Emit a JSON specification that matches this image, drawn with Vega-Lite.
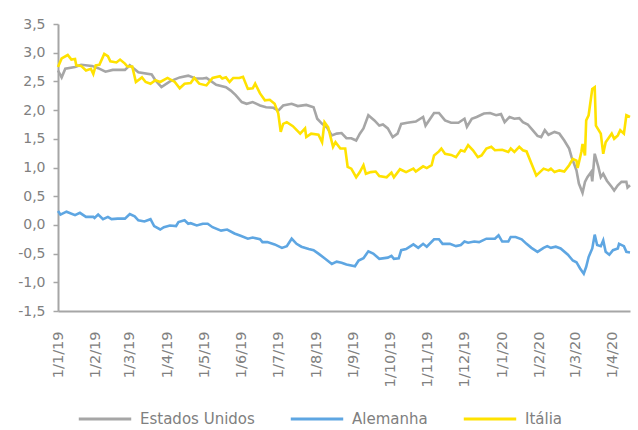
{
  "$schema": "https://vega.github.io/schema/vega-lite/v6.json",
  "autosize": {"type": "none"},
  "width": 572,
  "height": 287,
  "padding": {"left": 58, "top": 24, "right": 8, "bottom": 119},
  "background": "white",
  "config": {
    "view": {"stroke": null},
    "font": "DejaVu Sans"
  },
  "datasets": {
    "us": [
      {"d":"2019-01-01","v":2.69},{"d":"2019-01-04","v":2.57},{"d":"2019-01-07","v":2.72},{"d":"2019-01-15","v":2.75},{"d":"2019-01-20","v":2.79},{"d":"2019-01-29","v":2.77},{"d":"2019-02-03","v":2.73},{"d":"2019-02-09","v":2.67},{"d":"2019-02-15","v":2.70},{"d":"2019-02-25","v":2.70},{"d":"2019-03-01","v":2.78},{"d":"2019-03-08","v":2.66},{"d":"2019-03-19","v":2.62},{"d":"2019-03-22","v":2.52},{"d":"2019-03-27","v":2.40},{"d":"2019-04-03","v":2.50},{"d":"2019-04-11","v":2.57},{"d":"2019-04-18","v":2.60},{"d":"2019-04-24","v":2.55},{"d":"2019-04-30","v":2.55},{"d":"2019-05-03","v":2.56},{"d":"2019-05-11","v":2.44},{"d":"2019-05-19","v":2.40},{"d":"2019-05-23","v":2.34},{"d":"2019-05-27","v":2.26},{"d":"2019-06-01","v":2.14},{"d":"2019-06-05","v":2.11},{"d":"2019-06-10","v":2.14},{"d":"2019-06-16","v":2.08},{"d":"2019-06-21","v":2.05},{"d":"2019-06-27","v":2.04},{"d":"2019-07-01","v":1.99},{"d":"2019-07-05","v":2.08},{"d":"2019-07-12","v":2.11},{"d":"2019-07-17","v":2.07},{"d":"2019-07-24","v":2.09},{"d":"2019-07-30","v":2.05},{"d":"2019-08-02","v":1.85},{"d":"2019-08-06","v":1.76},{"d":"2019-08-10","v":1.70},{"d":"2019-08-14","v":1.56},{"d":"2019-08-18","v":1.59},{"d":"2019-08-22","v":1.60},{"d":"2019-08-26","v":1.51},{"d":"2019-08-30","v":1.51},{"d":"2019-09-03","v":1.47},{"d":"2019-09-06","v":1.59},{"d":"2019-09-09","v":1.68},{"d":"2019-09-13","v":1.91},{"d":"2019-09-18","v":1.82},{"d":"2019-09-22","v":1.73},{"d":"2019-09-25","v":1.75},{"d":"2019-09-29","v":1.68},{"d":"2019-10-03","v":1.53},{"d":"2019-10-07","v":1.59},{"d":"2019-10-10","v":1.76},{"d":"2019-10-15","v":1.78},{"d":"2019-10-22","v":1.80},{"d":"2019-10-28","v":1.88},{"d":"2019-10-30","v":1.73},{"d":"2019-11-06","v":1.95},{"d":"2019-11-10","v":1.95},{"d":"2019-11-15","v":1.82},{"d":"2019-11-20","v":1.78},{"d":"2019-11-26","v":1.78},{"d":"2019-12-01","v":1.85},{"d":"2019-12-03","v":1.71},{"d":"2019-12-07","v":1.85},{"d":"2019-12-11","v":1.88},{"d":"2019-12-17","v":1.94},{"d":"2019-12-22","v":1.95},{"d":"2019-12-27","v":1.91},{"d":"2019-12-31","v":1.93},{"d":"2020-01-03","v":1.79},{"d":"2020-01-07","v":1.88},{"d":"2020-01-11","v":1.85},{"d":"2020-01-15","v":1.86},{"d":"2020-01-18","v":1.79},{"d":"2020-01-22","v":1.75},{"d":"2020-01-26","v":1.65},{"d":"2020-01-30","v":1.55},{"d":"2020-02-02","v":1.53},{"d":"2020-02-05","v":1.65},{"d":"2020-02-08","v":1.57},{"d":"2020-02-13","v":1.62},{"d":"2020-02-17","v":1.59},{"d":"2020-02-21","v":1.47},{"d":"2020-02-25","v":1.33},{"d":"2020-02-27","v":1.18},{"d":"2020-03-02","v":0.95},{"d":"2020-03-04","v":0.72},{"d":"2020-03-07","v":0.56},{"d":"2020-03-09","v":0.75},{"d":"2020-03-11","v":0.83},{"d":"2020-03-14","v":0.92},{"d":"2020-03-15","v":0.76},{"d":"2020-03-17","v":1.24},{"d":"2020-03-20","v":1.01},{"d":"2020-03-22","v":0.83},{"d":"2020-03-24","v":0.89},{"d":"2020-03-27","v":0.77},{"d":"2020-03-31","v":0.66},{"d":"2020-04-02","v":0.60},{"d":"2020-04-05","v":0.69},{"d":"2020-04-08","v":0.75},{"d":"2020-04-12","v":0.75},{"d":"2020-04-13","v":0.65},{"d":"2020-04-15","v":0.69}
    ],
    "de": [
      {"d":"2019-01-01","v":0.24},{"d":"2019-01-03","v":0.18},{"d":"2019-01-08","v":0.23},{"d":"2019-01-15","v":0.17},{"d":"2019-01-19","v":0.21},{"d":"2019-01-24","v":0.14},{"d":"2019-01-30","v":0.14},{"d":"2019-01-31","v":0.12},{"d":"2019-02-03","v":0.18},{"d":"2019-02-07","v":0.10},{"d":"2019-02-11","v":0.14},{"d":"2019-02-14","v":0.10},{"d":"2019-02-19","v":0.11},{"d":"2019-02-25","v":0.11},{"d":"2019-03-01","v":0.19},{"d":"2019-03-05","v":0.15},{"d":"2019-03-08","v":0.08},{"d":"2019-03-13","v":0.06},{"d":"2019-03-18","v":0.10},{"d":"2019-03-21","v":-0.02},{"d":"2019-03-26","v":-0.08},{"d":"2019-03-29","v":-0.04},{"d":"2019-04-03","v":-0.01},{"d":"2019-04-08","v":-0.02},{"d":"2019-04-10","v":0.05},{"d":"2019-04-15","v":0.08},{"d":"2019-04-18","v":0.02},{"d":"2019-04-20","v":0.03},{"d":"2019-04-25","v":-0.01},{"d":"2019-04-30","v":0.02},{"d":"2019-05-04","v":0.02},{"d":"2019-05-08","v":-0.04},{"d":"2019-05-15","v":-0.10},{"d":"2019-05-20","v":-0.08},{"d":"2019-05-26","v":-0.15},{"d":"2019-05-31","v":-0.19},{"d":"2019-06-06","v":-0.24},{"d":"2019-06-10","v":-0.22},{"d":"2019-06-16","v":-0.25},{"d":"2019-06-18","v":-0.30},{"d":"2019-06-22","v":-0.30},{"d":"2019-06-28","v":-0.34},{"d":"2019-07-04","v":-0.40},{"d":"2019-07-08","v":-0.37},{"d":"2019-07-12","v":-0.24},{"d":"2019-07-16","v":-0.33},{"d":"2019-07-20","v":-0.38},{"d":"2019-07-26","v":-0.42},{"d":"2019-07-30","v":-0.44},{"d":"2019-08-03","v":-0.50},{"d":"2019-08-08","v":-0.58},{"d":"2019-08-14","v":-0.68},{"d":"2019-08-18","v":-0.64},{"d":"2019-08-22","v":-0.66},{"d":"2019-08-26","v":-0.69},{"d":"2019-09-02","v":-0.72},{"d":"2019-09-05","v":-0.62},{"d":"2019-09-09","v":-0.58},{"d":"2019-09-13","v":-0.46},{"d":"2019-09-17","v":-0.50},{"d":"2019-09-22","v":-0.59},{"d":"2019-09-29","v":-0.57},{"d":"2019-10-02","v":-0.54},{"d":"2019-10-04","v":-0.59},{"d":"2019-10-08","v":-0.58},{"d":"2019-10-10","v":-0.44},{"d":"2019-10-14","v":-0.42},{"d":"2019-10-20","v":-0.34},{"d":"2019-10-24","v":-0.40},{"d":"2019-10-28","v":-0.33},{"d":"2019-10-31","v":-0.38},{"d":"2019-11-06","v":-0.25},{"d":"2019-11-10","v":-0.25},{"d":"2019-11-13","v":-0.33},{"d":"2019-11-19","v":-0.33},{"d":"2019-11-24","v":-0.37},{"d":"2019-11-28","v":-0.35},{"d":"2019-12-01","v":-0.29},{"d":"2019-12-04","v":-0.31},{"d":"2019-12-09","v":-0.29},{"d":"2019-12-13","v":-0.30},{"d":"2019-12-19","v":-0.24},{"d":"2019-12-26","v":-0.24},{"d":"2019-12-29","v":-0.18},{"d":"2020-01-01","v":-0.29},{"d":"2020-01-06","v":-0.29},{"d":"2020-01-08","v":-0.21},{"d":"2020-01-12","v":-0.21},{"d":"2020-01-17","v":-0.25},{"d":"2020-01-21","v":-0.33},{"d":"2020-01-25","v":-0.40},{"d":"2020-01-30","v":-0.47},{"d":"2020-02-04","v":-0.40},{"d":"2020-02-07","v":-0.37},{"d":"2020-02-10","v":-0.40},{"d":"2020-02-14","v":-0.38},{"d":"2020-02-18","v":-0.41},{"d":"2020-02-24","v":-0.52},{"d":"2020-02-28","v":-0.62},{"d":"2020-03-02","v":-0.65},{"d":"2020-03-05","v":-0.76},{"d":"2020-03-08","v":-0.85},{"d":"2020-03-10","v":-0.73},{"d":"2020-03-12","v":-0.56},{"d":"2020-03-15","v":-0.41},{"d":"2020-03-17","v":-0.17},{"d":"2020-03-19","v":-0.35},{"d":"2020-03-22","v":-0.37},{"d":"2020-03-24","v":-0.27},{"d":"2020-03-26","v":-0.47},{"d":"2020-03-29","v":-0.52},{"d":"2020-04-01","v":-0.44},{"d":"2020-04-05","v":-0.41},{"d":"2020-04-06","v":-0.33},{"d":"2020-04-10","v":-0.37},{"d":"2020-04-12","v":-0.47},{"d":"2020-04-15","v":-0.48}
    ],
    "it": [
      {"d":"2019-01-01","v":2.75},{"d":"2019-01-04","v":2.90},{"d":"2019-01-09","v":2.96},{"d":"2019-01-12","v":2.88},{"d":"2019-01-15","v":2.89},{"d":"2019-01-16","v":2.78},{"d":"2019-01-20","v":2.77},{"d":"2019-01-24","v":2.69},{"d":"2019-01-28","v":2.72},{"d":"2019-01-30","v":2.63},{"d":"2019-02-01","v":2.78},{"d":"2019-02-04","v":2.79},{"d":"2019-02-08","v":2.98},{"d":"2019-02-11","v":2.94},{"d":"2019-02-13","v":2.85},{"d":"2019-02-18","v":2.83},{"d":"2019-02-21","v":2.88},{"d":"2019-02-25","v":2.81},{"d":"2019-02-27","v":2.76},{"d":"2019-03-03","v":2.76},{"d":"2019-03-06","v":2.49},{"d":"2019-03-11","v":2.57},{"d":"2019-03-14","v":2.49},{"d":"2019-03-18","v":2.46},{"d":"2019-03-22","v":2.52},{"d":"2019-03-26","v":2.49},{"d":"2019-04-01","v":2.56},{"d":"2019-04-07","v":2.49},{"d":"2019-04-11","v":2.38},{"d":"2019-04-15","v":2.46},{"d":"2019-04-20","v":2.47},{"d":"2019-04-23","v":2.56},{"d":"2019-04-27","v":2.46},{"d":"2019-05-03","v":2.43},{"d":"2019-05-08","v":2.56},{"d":"2019-05-14","v":2.59},{"d":"2019-05-16","v":2.55},{"d":"2019-05-19","v":2.57},{"d":"2019-05-22","v":2.49},{"d":"2019-05-25","v":2.56},{"d":"2019-05-30","v":2.56},{"d":"2019-06-02","v":2.58},{"d":"2019-06-06","v":2.37},{"d":"2019-06-10","v":2.38},{"d":"2019-06-12","v":2.46},{"d":"2019-06-16","v":2.29},{"d":"2019-06-20","v":2.17},{"d":"2019-06-24","v":2.18},{"d":"2019-06-28","v":2.11},{"d":"2019-07-01","v":1.94},{"d":"2019-07-03","v":1.62},{"d":"2019-07-05","v":1.76},{"d":"2019-07-08","v":1.79},{"d":"2019-07-13","v":1.72},{"d":"2019-07-19","v":1.59},{"d":"2019-07-23","v":1.68},{"d":"2019-07-24","v":1.53},{"d":"2019-07-28","v":1.59},{"d":"2019-08-03","v":1.57},{"d":"2019-08-06","v":1.44},{"d":"2019-08-08","v":1.79},{"d":"2019-08-11","v":1.70},{"d":"2019-08-15","v":1.36},{"d":"2019-08-17","v":1.44},{"d":"2019-08-21","v":1.33},{"d":"2019-08-25","v":1.33},{"d":"2019-08-27","v":1.01},{"d":"2019-08-30","v":0.98},{"d":"2019-09-03","v":0.83},{"d":"2019-09-06","v":0.92},{"d":"2019-09-09","v":1.04},{"d":"2019-09-11","v":0.89},{"d":"2019-09-15","v":0.92},{"d":"2019-09-19","v":0.93},{"d":"2019-09-22","v":0.85},{"d":"2019-09-28","v":0.83},{"d":"2019-10-02","v":0.91},{"d":"2019-10-04","v":0.83},{"d":"2019-10-09","v":0.97},{"d":"2019-10-14","v":0.92},{"d":"2019-10-20","v":0.98},{"d":"2019-10-22","v":0.93},{"d":"2019-10-28","v":1.02},{"d":"2019-10-31","v":0.99},{"d":"2019-11-04","v":1.04},{"d":"2019-11-06","v":1.21},{"d":"2019-11-10","v":1.28},{"d":"2019-11-12","v":1.33},{"d":"2019-11-15","v":1.24},{"d":"2019-11-20","v":1.22},{"d":"2019-11-24","v":1.18},{"d":"2019-11-28","v":1.30},{"d":"2019-12-01","v":1.28},{"d":"2019-12-04","v":1.39},{"d":"2019-12-08","v":1.30},{"d":"2019-12-12","v":1.18},{"d":"2019-12-15","v":1.21},{"d":"2019-12-19","v":1.33},{"d":"2019-12-23","v":1.36},{"d":"2019-12-26","v":1.30},{"d":"2020-01-01","v":1.31},{"d":"2020-01-06","v":1.27},{"d":"2020-01-08","v":1.33},{"d":"2020-01-11","v":1.27},{"d":"2020-01-15","v":1.36},{"d":"2020-01-18","v":1.30},{"d":"2020-01-21","v":1.28},{"d":"2020-01-25","v":1.07},{"d":"2020-01-29","v":0.86},{"d":"2020-02-01","v":0.92},{"d":"2020-02-04","v":0.98},{"d":"2020-02-08","v":0.95},{"d":"2020-02-10","v":0.98},{"d":"2020-02-13","v":0.92},{"d":"2020-02-17","v":0.95},{"d":"2020-02-21","v":0.93},{"d":"2020-02-25","v":1.04},{"d":"2020-02-28","v":1.15},{"d":"2020-03-02","v":1.12},{"d":"2020-03-03","v":0.99},{"d":"2020-03-06","v":1.27},{"d":"2020-03-07","v":1.41},{"d":"2020-03-09","v":1.21},{"d":"2020-03-10","v":1.82},{"d":"2020-03-12","v":1.91},{"d":"2020-03-15","v":2.37},{"d":"2020-03-17","v":2.40},{"d":"2020-03-18","v":1.73},{"d":"2020-03-22","v":1.59},{"d":"2020-03-24","v":1.24},{"d":"2020-03-26","v":1.44},{"d":"2020-03-29","v":1.53},{"d":"2020-03-31","v":1.59},{"d":"2020-04-02","v":1.50},{"d":"2020-04-05","v":1.56},{"d":"2020-04-07","v":1.65},{"d":"2020-04-10","v":1.59},{"d":"2020-04-12","v":1.91},{"d":"2020-04-15","v":1.88}
    ]
  },
  "encoding": {
    "x": {
      "field": "d",
      "type": "temporal",
      "scale": {
        "type": "utc",
        "nice": false,
        "domain": [{"year": 2019, "month": 1, "date": 1, "utc": true}, {"year": 2020, "month": 4, "date": 15, "utc": true}]
      },
      "axis": {
        "title": null,
        "labelExpr": "utcFormat(datum.value, '%-d/%-m/%y')",
        "tickCount": {"interval": "month", "step": 1},
        "labelAngle": -90,
        "labelFontSize": 14.5,
        "labelColor": "#808080",
        "labelPadding": 20,
        "labelFlush": false,
        "labelOverlap": false,
        "ticks": false,
        "tickSize": 0,
        "grid": false,
        "domainColor": "#a6a6a6",
        "domainWidth": 2
      }
    },
    "y": {
      "field": "v",
      "type": "quantitative",
      "scale": {"domain": [-1.5, 3.5], "nice": false, "zero": false},
      "axis": {
        "title": null,
        "values": [-1.5, -1, -0.5, 0, 0.5, 1, 1.5, 2, 2.5, 3, 3.5],
        "labelExpr": "replace(replace(format(datum.value, '.1f'), '.', ','), '\u2212', '-')",
        "labelFontSize": 14,
        "labelColor": "#808080",
        "labelPadding": 8,
        "tickSize": 5,
        "tickColor": "#a6a6a6",
        "tickWidth": 1.5,
        "grid": false,
        "domainColor": "#a6a6a6",
        "domainWidth": 2
      }
    }
  },
  "layer": [
    {
      "data": {"values": [{}]},
      "mark": {"type": "rule", "color": "#8c8c8c", "strokeWidth": 1.5},
      "encoding": {"x": null, "y": {"datum": 0, "type": "quantitative"}}
    },
    {
      "data": {"name": "us"},
      "mark": {"type": "line", "strokeWidth": 2.6},
      "encoding": {
        "color": {
          "datum": "Estados Unidos",
          "type": "nominal",
          "scale": {"domain": ["Estados Unidos", "Alemanha", "Itália"], "range": ["#a6a6a6", "#5ea6e2", "#ffe200"]},
          "legend": {
            "title": null,
            "orient": "none",
            "direction": "horizontal",
            "legendX": 19,
            "legendY": 367,
            "padding": 0,
            "symbolType": "stroke",
            "symbolSize": 2750,
            "symbolStrokeWidth": 3,
            "labelFontSize": 15,
            "labelColor": "#808080",
            "labelOffset": 7,
            "columnPadding": 29
          }
        }
      }
    },
    {
      "data": {"name": "de"},
      "mark": {"type": "line", "strokeWidth": 2.6},
      "encoding": {"color": {"datum": "Alemanha", "type": "nominal"}}
    },
    {
      "data": {"name": "it"},
      "mark": {"type": "line", "strokeWidth": 2.6},
      "encoding": {"color": {"datum": "Itália", "type": "nominal"}}
    }
  ]
}
